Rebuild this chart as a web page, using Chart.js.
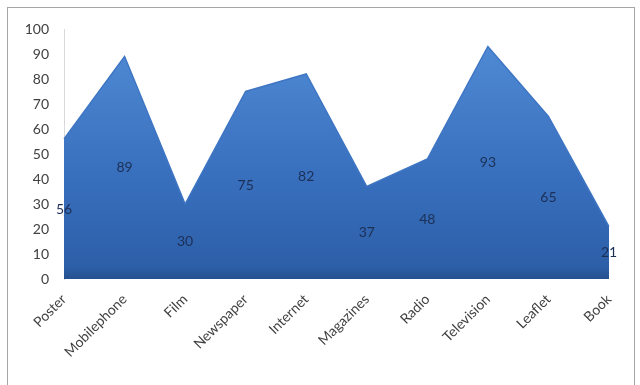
<!DOCTYPE html>
<html>
<head>
<meta charset="utf-8">
<script src="https://cdn.jsdelivr.net/npm/chart.js@4"></script>
<style>
  html, body { margin: 0; padding: 0; background: #fff; }
  #wrap { position: relative; width: 640px; height: 385px; }
  #frame { position: absolute; left: 7px; top: 7px; width: 626px; height: 400px; border: 1px solid #a6a6a6; }
  canvas { position: absolute; left: 0; top: 0; }
</style>
</head>
<body>
<div id="wrap">
  <div id="frame"></div>
  <canvas id="chart" width="640" height="385"></canvas>
</div>
<script>
// chart data
var categories = ['Poster', 'Mobilephone', 'Film', 'Newspaper', 'Internet', 'Magazines', 'Radio', 'Television', 'Leaflet', 'Book'];
var values = [56, 89, 30, 75, 82, 37, 48, 93, 65, 21];
var yTicks = [0, 10, 20, 30, 40, 50, 60, 70, 80, 90, 100];

// value labels sit in the middle of the area, under each point
var midLabels = {
  id: 'midLabels',
  afterDatasetsDraw: function (chart) {
    var ctx = chart.ctx;
    var xs = chart.scales.x, ys = chart.scales.y;
    ctx.save();
    ctx.font = '14px Lato, "Open Sans", sans-serif';
    ctx.fillStyle = '#1c2f55';
    ctx.textAlign = 'center';
    ctx.textBaseline = 'middle';
    values.forEach(function (v, i) {
      ctx.fillText(String(v), xs.getPixelForValue(i), ys.getPixelForValue(v / 2));
    });
    ctx.restore();
  }
};

var ctx = document.getElementById('chart').getContext('2d');
new Chart(ctx, {
  type: 'line',
  data: {
    labels: categories,
    datasets: [{
      data: values,
      fill: 'origin',
      tension: 0,
      pointRadius: 0,
      borderColor: '#3f76c4',
      borderWidth: 1.5,
      backgroundColor: function (context) {
        var area = context.chart.chartArea;
        if (!area) return '#3f76c4';
        var g = context.chart.ctx.createLinearGradient(0, area.top, 0, area.bottom);
        g.addColorStop(0, '#528cd6');
        g.addColorStop(0.6, '#386fbd');
        g.addColorStop(0.95, '#2d5fa8');
        g.addColorStop(1, '#24518f');
        return g;
      }
    }]
  },
  options: {
    responsive: false,
    animation: false,
    layout: { padding: { left: 8, right: 31, top: 29, bottom: 0 } },
    scales: {
      x: {
        offset: false,
        grid: { display: false },
        border: { display: false },
        ticks: {
          color: '#404040',
          font: { family: 'Lato, "Open Sans", sans-serif', size: 14 },
          minRotation: 45,
          maxRotation: 45,
          autoSkip: false,
          padding: 4
        },
        afterFit: function (scale) { scale.height = 106; }
      },
      y: {
        min: 0,
        max: 100,
        afterBuildTicks: function (scale) {
          scale.ticks = yTicks.map(function (v) { return { value: v }; });
        },
        grid: { display: false, drawTicks: false },
        border: { display: true, color: '#d9d9d9' },
        ticks: {
          color: '#404040',
          font: { family: 'Lato, "Open Sans", sans-serif', size: 14 },
          padding: 15
        },
        afterFit: function (scale) { scale.width = 56; }
      }
    },
    plugins: {
      legend: { display: false },
      tooltip: { enabled: false }
    }
  },
  plugins: [midLabels]
});
</script>
</body>
</html>
